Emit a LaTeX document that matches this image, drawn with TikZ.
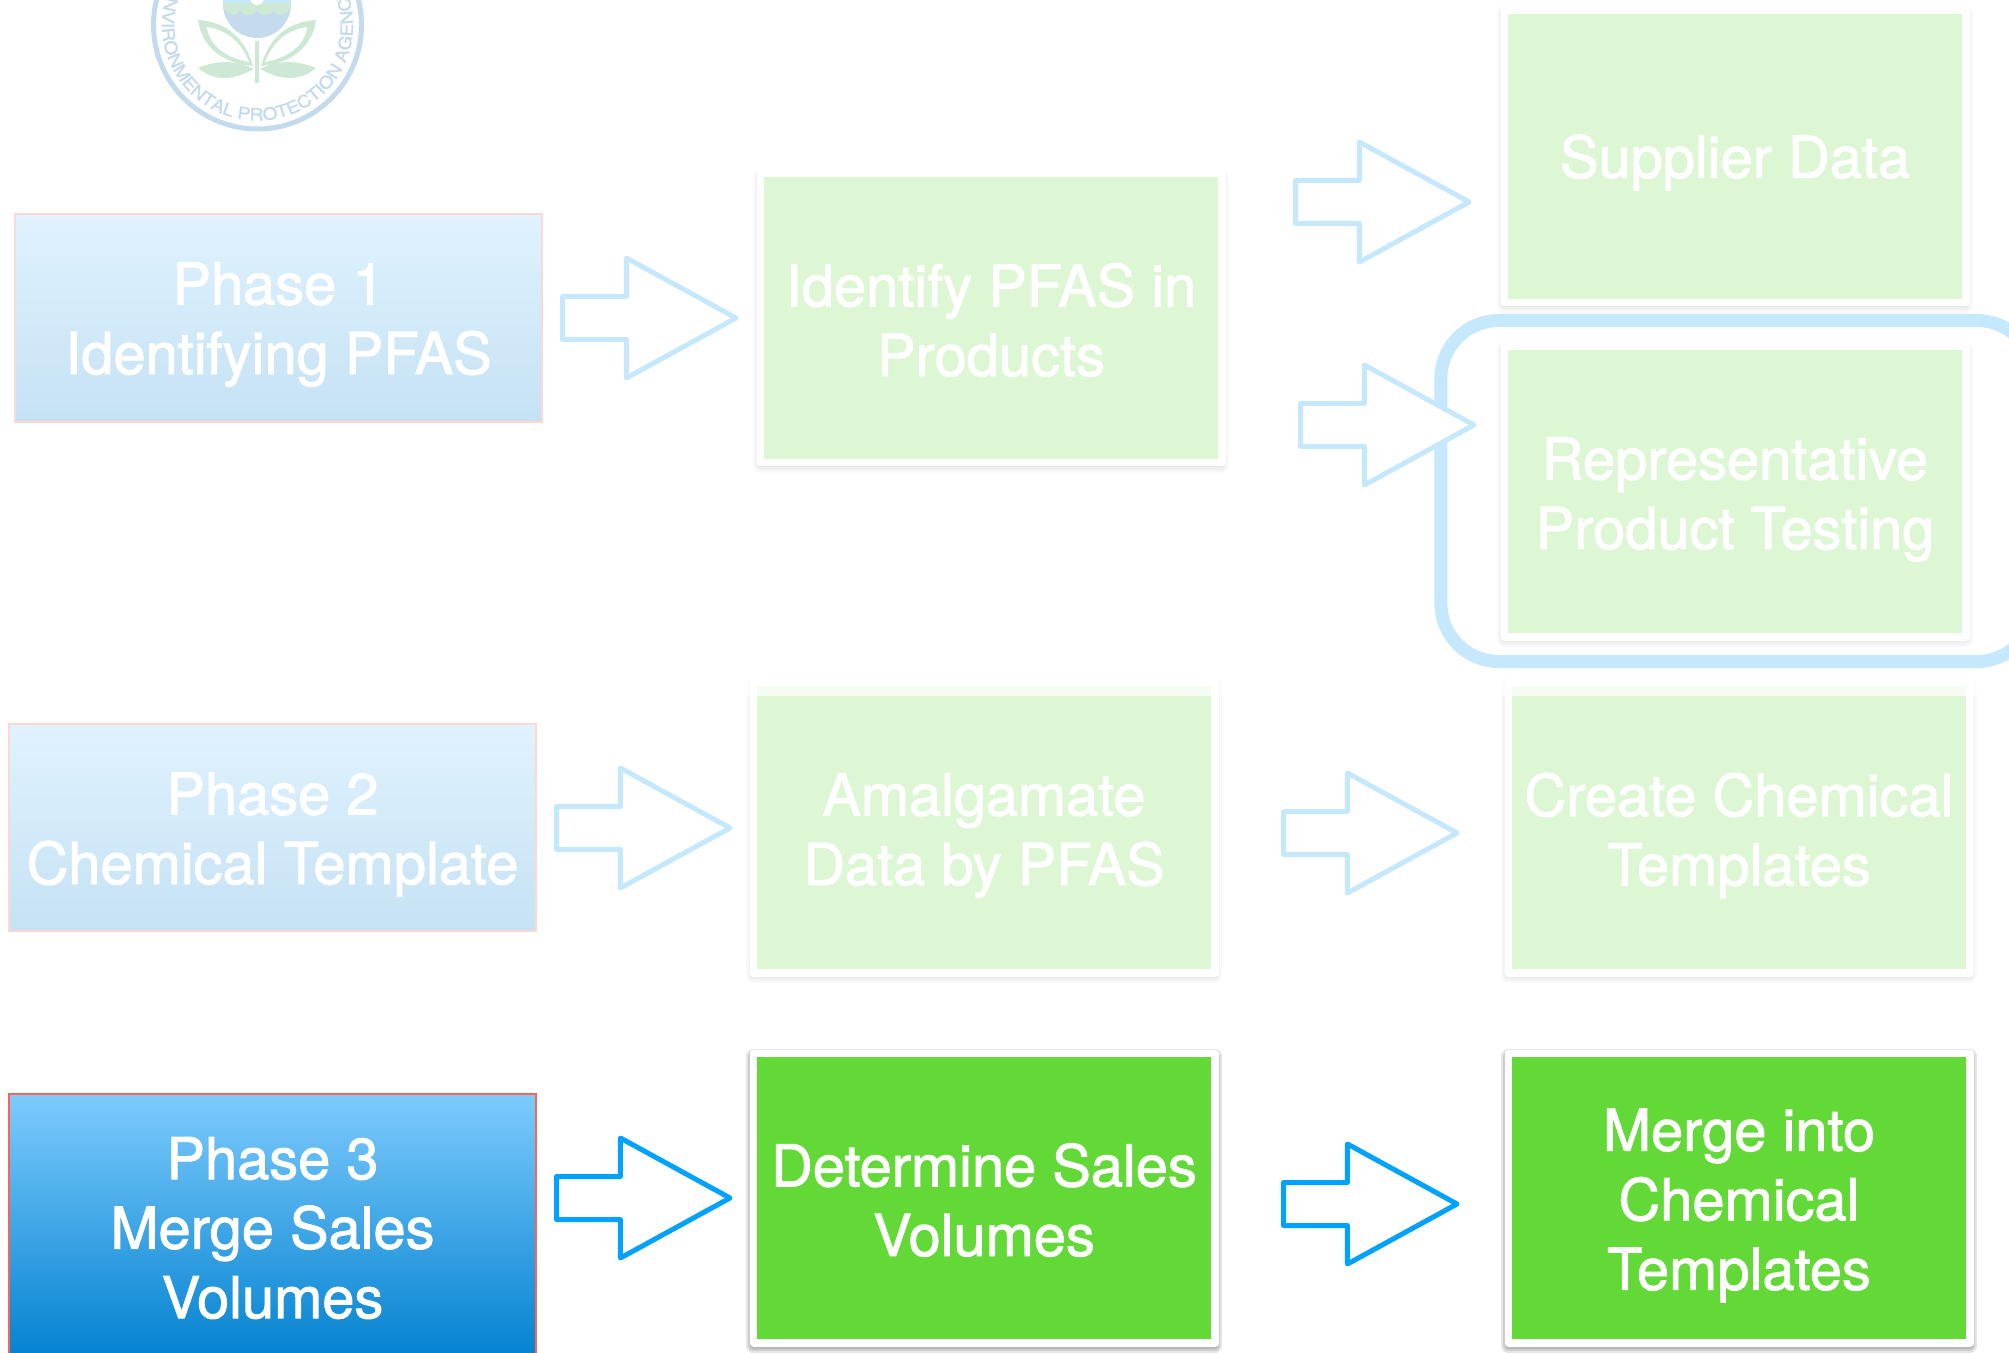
\documentclass[tikz,border=0pt]{standalone}
\usepackage{fontspec}
\setmainfont{TeX Gyre Heros}
\newfontfamily\boxfont{TeX Gyre Heros}[FakeBold=1.6]
\newfontfamily\sealface{TeX Gyre Heros}[FakeBold=1,FakeStretch=1.13]
\usetikzlibrary{shapes.arrows,decorations.text}
\definecolor{paleblue}{HTML}{C5E8FD}
\definecolor{strongblue}{HTML}{00A2FF}
\definecolor{palegreen}{HTML}{DDF6D3}
\definecolor{stronggreen}{HTML}{62D936}
\definecolor{sealblue}{HTML}{C4DAED}
\definecolor{sealgreen}{HTML}{CDE9D5}
\definecolor{Ptop}{HTML}{E0F2FE}
\definecolor{Pbot}{HTML}{C5E2F4}
\definecolor{Pborder}{HTML}{FDD8D2}
\definecolor{Sborder}{HTML}{FF6250}
\definecolor{Stop}{HTML}{7DCBFD}
\definecolor{Sbot}{HTML}{0080CF}
\newcommand{\sealfont}{\sealface\fontsize{8.5pt}{10pt}\selectfont\color{sealblue}}
\tikzset{
  x=.5pt,y=-.5pt,
  boxtext/.style={text=white,align=center,font=\boxfont\fontsize{28.9pt}{34.75pt}\selectfont,inner sep=0pt,outer sep=0pt},
  softlayer/.style 2 args={preaction={draw=black,fill=black,line width=#1,draw opacity=#2,fill opacity=#2,transform canvas={yshift=-1.5pt}}},
  softshadow/.style={softlayer={1pt}{#1},softlayer={3pt}{#1},softlayer={5pt}{#1},softlayer={7pt}{#1}},
  greenbase/.style={rectangle,draw=white,line width=3.75pt,line join=round,minimum width=230.75pt,inner sep=0pt,outer sep=0pt},
  palebox/.style={greenbase,fill=palegreen,softshadow=.022},
  strongbox/.style={greenbase,fill=stronggreen,softshadow=.10},
  phasebase/.style={rectangle,line width=1pt,minimum width=263.5pt,inner sep=0pt,outer sep=0pt},
  palephase/.style={phasebase,draw=Pborder,top color=Ptop,bottom color=Pbot},
  strongphase/.style={phasebase,draw=Sborder,top color=Stop,bottom color=Sbot},
  arrowbase/.style={single arrow,anchor=tip,fill=white,line width=2.5pt,line join=round,inner sep=9.5pt,outer sep=0pt,
     minimum height=86.75pt,single arrow head extend=19.25pt,single arrow tip angle=57.4},
  palearrow/.style={arrowbase,draw=paleblue},
  strongarrow/.style={arrowbase,draw=strongblue},
}
\begin{document}
\begin{tikzpicture}
\useasboundingbox (0,0) rectangle (2009,1353);
\clip (0,0) rectangle (2009,1353);
\fill[white] (0,0) rectangle (2009,1353);
% seal
\draw[sealblue,line width=2.5pt] (257.5,25) circle[radius=104];
\begin{scope}
  \clip (257,4) circle[radius=34];
  \fill[sealblue] (220,-32) rectangle (295,40);
  \fill[paleblue] (220,-32) rectangle (295,3);
  \fill[sealgreen] (220,3) -- (223,3) -- (223,7) .. controls (232,17) and (236,17) .. (240,10) .. controls (244,17) and (252,17) .. (257,10) .. controls (262,17) and (270,17) .. (274,10) .. controls (278,17) and (284,17) .. (292,7) -- (292,3) -- cycle;
  \fill[white] (257,-2) circle[radius=7];
\end{scope}
\fill[sealgreen] (255,41) rectangle (259,83);
\foreach \s in {1,-1}{
 \begin{scope}[shift={(257,0)},xscale=\s]
  \fill[sealgreen] (-59,20) .. controls (-30,22) and (-12,38) .. (-4,66) .. controls (-30,64) and (-55,50) .. cycle;
  \fill[white] (-50,27) .. controls (-30,30) and (-16,42) .. (-8,62) .. controls (-30,58) and (-48,46) .. cycle;
  \fill[sealgreen] (-59,68) .. controls (-40,60) and (-20,60) .. (-3,69) .. controls (-20,78) and (-40,84) .. cycle;
 \end{scope}}
\path[decorate,decoration={text along path,text align=center,text={|\sealfont|ENVIRONMENTAL PROTECTION AGENCY}}]
  (257.5,25) ++(240:95.5) arc[start angle=240,end angle=-60,radius=95.5];
% phase boxes
\node[palephase,minimum height=104pt] (phaseone) at (278.5,318) {};
\node[boxtext] (phaseonetext) at (278.5,324.5) {Phase 1\\Identifying PFAS};
\node[palephase,minimum height=103.5pt] (phasetwo) at (272.5,827.5) {};
\node[boxtext] (phasetwotext) at (272.5,834.5) {Phase 2\\Chemical Template};
\node[strongphase,minimum height=135pt] (phasethree) at (272.5,1229) {};
\node[boxtext] (phasethreetext) at (272.5,1228) {Phase 3\\Merge Sales\\Volumes};
% green boxes
\node[palebox,minimum height=144.75pt] (identify) at (991,318) {};
\node[boxtext] (identifytext) at (991,320) {Identify PFAS in\\Products};
\node[palebox,minimum height=146.25pt] (supplier) at (1735,156.5) {};
\node[boxtext] (suppliertext) at (1735,162.5) {Supplier Data};
\node[palebox,minimum height=145.25pt] (testing) at (1735,491.5) {};
\node[boxtext] (testingtext) at (1735,499.5) {Representative\\Product Testing};
\node[palebox,minimum height=145.25pt] (amalgamate) at (984,827.5) {};
\node[boxtext] (amalgamatetext) at (984,835.5) {Amalgamate\\Data by PFAS};
\node[palebox,minimum height=145.25pt] (create) at (1739,827.5) {};
\node[boxtext] (createtext) at (1739,835.5) {Create Chemical\\Templates};
\node[strongbox,minimum height=144.75pt] (determine) at (984,1198) {};
\node[boxtext] (determinetext) at (984,1200) {Determine Sales\\Volumes};
\node[strongbox,minimum height=144.75pt] (merge) at (1739,1198) {};
\node[boxtext] (mergetext) at (1739,1205.5) {Merge into\\Chemical\\Templates};
% highlight ring
\node[draw=paleblue,line width=6.5pt,rounded corners=29pt,minimum width=297pt,minimum height=170.5pt,inner sep=0pt] (ring) at (1737.9,491) {};
% veil over the tops of the second row
\fill[white,fill opacity=.72] (700,671) rectangle (2009,696);
% block arrows
\node[palearrow] (aone) at (736,318) {};
\node[palearrow] (atwo) at (1469,202) {};
\node[palearrow] (athree) at (1474,425) {};
\node[palearrow] (afour) at (730,828) {};
\node[palearrow] (afive) at (1457,833) {};
\node[strongarrow] (asix) at (730,1198) {};
\node[strongarrow] (aseven) at (1457,1204) {};
\end{tikzpicture}
\end{document}
